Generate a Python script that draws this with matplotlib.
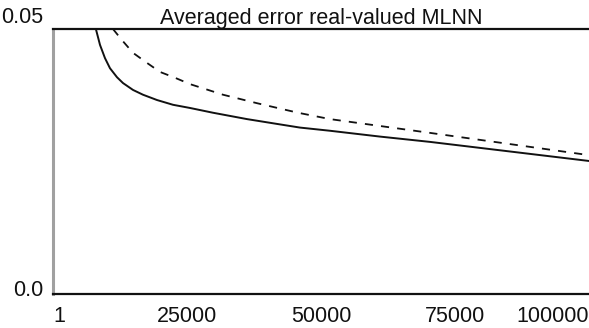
import matplotlib.pyplot as plt
import matplotlib.transforms as mtransforms

# iterations vs averaged error, two training runs
iter_solid = [8000, 8770, 9700, 10630, 11940, 13060, 14930, 16790, 19400, 22390, 25560,
              29850, 36190, 42350, 46080, 51680, 61010, 70340, 100000]
err_solid = [0.0500, 0.0470, 0.0445, 0.0426, 0.0409, 0.0398, 0.0385, 0.0376, 0.0366, 0.0357, 0.0351,
             0.0342, 0.0330, 0.0320, 0.0314, 0.0308, 0.0297, 0.0287, 0.0251]

iter_dashed = [11190, 12870, 14930, 17540, 19960, 22760, 25560, 31720, 38060, 45710, 51680, 61010, 70340, 100000]
err_dashed = [0.0500, 0.0479, 0.0455, 0.0436, 0.0419, 0.0408, 0.0396, 0.0376, 0.0360, 0.0342, 0.0330, 0.0317, 0.0304, 0.0262]

xticks = [1, 25000, 50000, 75000, 100000]
xtick_labels = ['1', '25000', '50000', '75000', '100000']
yticks = [0.0, 0.05]
ytick_labels = ['0.0', '0.05']

plt.rcParams['font.family'] = ['Liberation Sans', 'DejaVu Sans']

fig = plt.figure(figsize=(5.89, 3.28), dpi=100)
ax = fig.add_axes([53 / 589, 34 / 328, 536 / 589, 265 / 328])

ax.plot(iter_solid, err_solid, color='#111111', linewidth=1.4)
ax.plot(iter_dashed, err_dashed, color='#111111', linewidth=1.3, linestyle=(0, (4.5, 4.5)))

ax.set_xlim(1, 100000)
ax.set_ylim(0, 0.05)

ax.set_xticks(xticks)
ax.set_xticklabels(xtick_labels, fontsize=15.5)
ax.set_yticks(yticks)
ax.set_yticklabels(ytick_labels, fontsize=15.5)
ax.tick_params(axis='both', length=0, colors='#111111')
ax.tick_params(axis='x', pad=9)
ax.tick_params(axis='y', pad=7)

# shift a few tick labels the way the original layout has them
xl = ax.get_xticklabels()
xl[0].set_transform(xl[0].get_transform() + mtransforms.ScaledTranslation(6 / 100, 0, fig.dpi_scale_trans))
xl[-1].set_horizontalalignment('right')
yl = ax.get_yticklabels()
yl[0].set_transform(yl[0].get_transform() + mtransforms.ScaledTranslation(0, 6 / 100, fig.dpi_scale_trans))
yl[1].set_transform(yl[1].get_transform() + mtransforms.ScaledTranslation(0, 14 / 100, fig.dpi_scale_trans))

ax.set_title('Averaged error real-valued MLNN', fontsize=15.5, pad=3, color='#111111')

ax.spines['right'].set_visible(False)
ax.spines['left'].set_color('#a0a0a0')
ax.spines['left'].set_linewidth(2.2)
ax.spines['top'].set_color('#111111')
ax.spines['top'].set_linewidth(1.6)
ax.spines['bottom'].set_color('#111111')
ax.spines['bottom'].set_linewidth(1.6)

fig.savefig('out.png', dpi=100)
